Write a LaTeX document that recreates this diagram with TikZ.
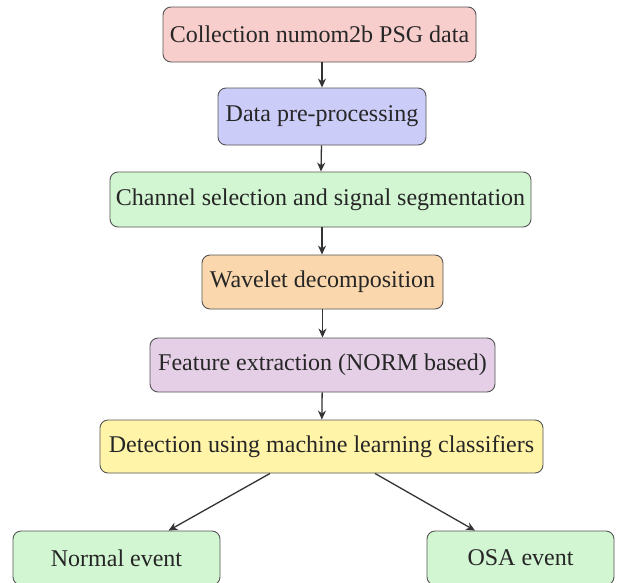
\documentclass[tikz,border=0pt]{standalone}
\usepackage{fontspec}
\setmainfont{Liberation Serif}
\usetikzlibrary{arrows.meta}
\definecolor{cpink}{HTML}{F8CECC}
\definecolor{cblue}{HTML}{CCCCF8}
\definecolor{cgreen}{HTML}{D2F5D2}
\definecolor{corange}{HTML}{FAD7AC}
\definecolor{cpurple}{HTML}{E4CFE6}
\definecolor{cyellow}{HTML}{FFF4A8}
\definecolor{cline}{HTML}{555555}
\begin{document}
\begin{tikzpicture}[x=1pt,y=-1pt,
  box/.style={draw=cline, line width=0.9pt, rounded corners=8pt, inner sep=0pt,
    font=\fontsize{24}{29}\selectfont, text=black!85},
  arr/.style={draw=black!80, line width=1.3pt, -{Stealth[length=9pt,width=8pt]}}]
\useasboundingbox (0,0) rectangle (619,582);
\clip (0,0) rectangle (619,582);
\fill[white] (0,0) rectangle (619,582);
\node[box, fill=cpink, minimum width=313pt, minimum height=55pt] (c1) at (319.5,34.5) {Collection numom2b PSG data};
\node[box, fill=cblue, minimum width=208pt, minimum height=57pt] (c2) at (322,116.5) {Data pre-processing};
\node[box, fill=cgreen, minimum width=421pt, minimum height=55pt] (c3) at (320.5,199.5) {Channel selection and signal segmentation};
\node[box, fill=corange, minimum width=241pt, minimum height=54pt] (c4) at (322.5,282) {Wavelet decomposition};
\node[box, fill=cpurple, minimum width=345pt, minimum height=54pt] (c5) at (322.5,365) {Feature extraction (NORM based)};
\node[box, fill=cyellow, minimum width=443pt, minimum height=53pt] (c6) at (321.5,446.5) {Detection using machine learning classifiers};
\node[box, fill=cgreen, minimum width=207pt, minimum height=54pt] (n) at (116.5,558) {Normal event};
\node[box, fill=cgreen, minimum width=187pt, minimum height=54pt] (o) at (520.5,558) {OSA event};
\draw[arr] (c1.south -| 322,0) -- (c2.north -| 322,0);
\draw[arr] (c2) -- (c3);
\draw[arr] (c3.south -| 322,0) -- (c4.north -| 322,0);
\draw[arr] (c4) -- (c5);
\draw[arr] (c5) -- (c6);
\draw[arr] ([xshift=-51.5pt]c6.south) -- ([xshift=52pt]n.north);
\draw[arr] ([xshift=53.5pt]c6.south) -- ([xshift=-45.5pt]o.north);
\end{tikzpicture}
\end{document}
